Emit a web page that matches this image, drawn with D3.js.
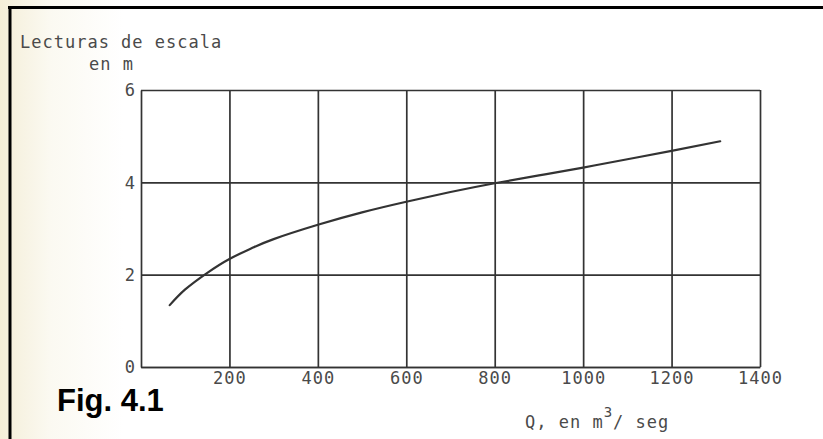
<!DOCTYPE html>
<html>
<head>
<meta charset="utf-8">
<script src="https://cdn.jsdelivr.net/npm/d3@7"></script>
<style>
  html, body { margin: 0; padding: 0; background: #ffffff; }
  svg { display: block; }
  .lbl { font-family: "DejaVu Sans Mono", monospace; font-size: 17px; fill: #4a4a4a; letter-spacing: 1px; }
</style>
</head>
<body>
<svg id="chart" width="823" height="439"></svg>
<script>
// ---- data ----
const dischargeQ = [65, 100, 150, 200, 250, 300, 400, 500, 600, 700, 800, 900, 1000, 1100, 1200, 1310];
const stageH     = [1.34, 1.68, 2.04, 2.34, 2.57, 2.77, 3.08, 3.35, 3.58, 3.79, 3.98, 4.15, 4.32, 4.50, 4.68, 4.89];
const xTicks = [200, 400, 600, 800, 1000, 1200, 1400];
const yTicks = [0, 2, 4, 6];
const yTitle1 = "Lecturas de escala";
const yTitle2 = "en m";
const figLabel = "Fig. 4.1";

const svg = d3.select("#chart");
const W = 823, H = 439;

// paper background with slight yellowish tint at left
const defs = svg.append("defs");
const grad = defs.append("linearGradient").attr("id", "paper").attr("x1", 0).attr("x2", 1).attr("y1", 0).attr("y2", 0);
grad.append("stop").attr("offset", "0%").attr("stop-color", "#f4eed8");
grad.append("stop").attr("offset", "6%").attr("stop-color", "#fbf9f1");
grad.append("stop").attr("offset", "15%").attr("stop-color", "#ffffff");
grad.append("stop").attr("offset", "100%").attr("stop-color", "#ffffff");
svg.append("rect").attr("x", 0).attr("y", 0).attr("width", W).attr("height", H).attr("fill", "url(#paper)");

// border (top and left)
svg.append("line").attr("x1", 8).attr("x2", W).attr("y1", 7.5).attr("y2", 7.5).attr("stroke", "#000").attr("stroke-width", 3);
svg.append("line").attr("x1", 10).attr("x2", 10).attr("y1", 6).attr("y2", H).attr("stroke", "#000").attr("stroke-width", 3);

// scales
const x = d3.scaleLinear().domain([0, 1400]).range([141, 760]);
const y = d3.scaleLinear().domain([0, 6]).range([367, 90]);

const gridColor = "#333";

// x gridlines + labels
const gx = svg.append("g").attr("transform", `translate(0,${y(0)})`)
  .call(d3.axisBottom(x).tickValues(xTicks).tickFormat(d3.format("d"))
    .tickSize(-(y(0) - y(6))).tickSizeOuter(0).tickPadding(5));
gx.select(".domain").attr("stroke", gridColor).attr("stroke-width", 1.7);
gx.selectAll(".tick line").attr("stroke", gridColor).attr("stroke-width", 1.7);
gx.selectAll(".tick text").attr("class", "lbl").attr("font-family", null).attr("font-size", null).attr("fill", null);

// y gridlines + labels
const gy = svg.append("g").attr("transform", `translate(${x(0)},0)`)
  .call(d3.axisLeft(y).tickValues(yTicks).tickFormat(d3.format("d"))
    .tickSize(-(x(1400) - x(0))).tickSizeOuter(0).tickPadding(5));
gy.select(".domain").attr("stroke", gridColor).attr("stroke-width", 1.7);
gy.selectAll(".tick line").attr("stroke", gridColor).attr("stroke-width", 1.7);
gy.selectAll(".tick text").attr("class", "lbl").attr("font-family", null).attr("font-size", null).attr("fill", null)
  .attr("text-anchor", "end").attr("dy", "0.35em");

// curve
const pts = dischargeQ.map((q, i) => [q, stageH[i]]);
const line = d3.line().x(d => x(d[0])).y(d => y(d[1])).curve(d3.curveNatural);
svg.append("path").datum(pts).attr("d", line)
  .attr("fill", "none").attr("stroke", "#333").attr("stroke-width", 2.2).attr("stroke-linecap", "round");

// y axis title
svg.append("text").attr("class", "lbl").attr("x", 20).attr("y", 48).text(yTitle1);
svg.append("text").attr("class", "lbl").attr("x", 89).attr("y", 70).text(yTitle2);

// x axis title
const xt = svg.append("text").attr("class", "lbl").attr("x", 525).attr("y", 428);
xt.append("tspan").text("Q, en m");
xt.append("tspan").attr("dy", -11).attr("font-size", "14px").text("3");
xt.append("tspan").attr("dy", 11).text("/ seg");

// figure label
svg.append("text").attr("x", 57).attr("y", 411)
  .attr("font-family", "Liberation Sans, Arial, sans-serif").attr("font-weight", "bold")
  .attr("font-size", "31px").attr("fill", "#000").text(figLabel);
</script>
</body>
</html>
